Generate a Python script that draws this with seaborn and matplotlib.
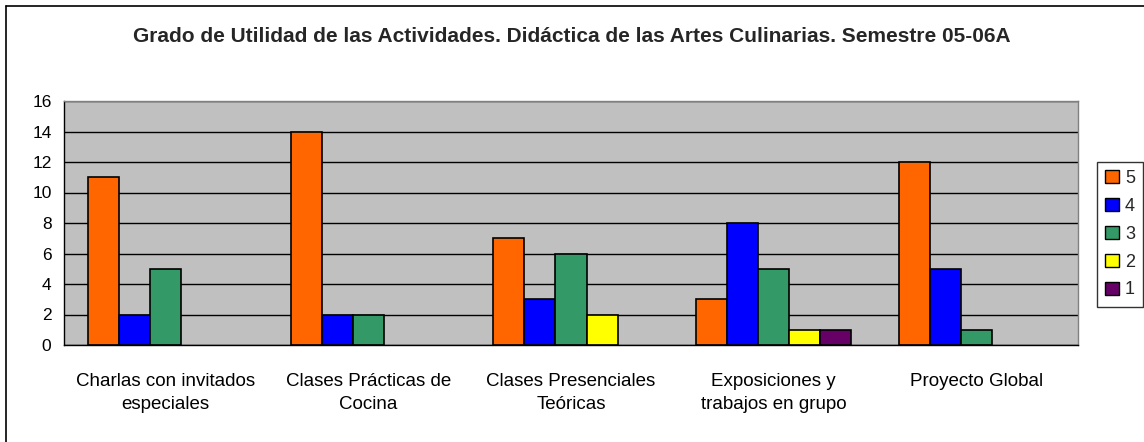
import matplotlib
matplotlib.use("Agg")
import matplotlib.pyplot as plt
import seaborn as sns
import pandas as pd
import numpy as np
from matplotlib.lines import Line2D
from matplotlib.patches import Patch

categories = ["Charlas con invitados\nespeciales", "Clases Prácticas de\nCocina",
              "Clases Presenciales\nTeóricas", "Exposiciones y\ntrabajos en grupo",
              "Proyecto Global"]
series = ["5", "4", "3", "2", "1"]
values_5 = [11, 14, 7, 3, 12]
values_4 = [2, 2, 3, 8, 5]
values_3 = [5, 2, 6, 5, 1]
values_2 = [np.nan, np.nan, 2, 1, np.nan]
values_1 = [np.nan, np.nan, np.nan, 1, np.nan]
colors = ["#FF6600", "#0000FF", "#339966", "#FFFF00", "#660066"]
title = "Grado de Utilidad de las Actividades. Didáctica de las Artes Culinarias. Semestre 05-06A"

rows = []
for s, vals in zip(series, [values_5, values_4, values_3, values_2, values_1]):
    for c, v in zip(categories, vals):
        rows.append({"cat": c, "serie": s, "val": v})
df = pd.DataFrame(rows)

sns.set_style("white")
plt.rcParams["font.family"] = ["Liberation Sans", "DejaVu Sans"]

W, H = 1144, 442
fig = plt.figure(figsize=(W / 100, H / 100), dpi=100)
ax = fig.add_axes([64 / W, 1 - 345 / H, (1078 - 64) / W, (345 - 101) / H])
ax.set_facecolor("#C0C0C0")

sns.barplot(data=df, x="cat", y="val", hue="serie", hue_order=series, order=categories,
            palette=colors, width=0.765, gap=0, edgecolor="black", linewidth=1.2,
            ax=ax, legend=False, saturation=1, errorbar=None)

ax.set_ylim(0, 16)
ax.set_xlim(-0.5, len(categories) - 0.5)
ax.set_yticks(range(0, 17, 2))
ax.yaxis.grid(True, color="black", linewidth=1)
ax.set_axisbelow(True)
ax.set_xlabel("")
ax.set_ylabel("")

# category labels centered, ticks at boundaries
ax.set_xticks(range(len(categories)))
ax.set_xticklabels(categories, fontsize=13.5, linespacing=1.5)
ax.tick_params(axis="x", length=0, pad=20)
ax.set_xticks(np.arange(-0.5, len(categories), 1), minor=True)
ax.tick_params(axis="x", which="minor", length=5, width=1, color="black", direction="out")
ax.tick_params(axis="y", length=5, width=1, color="black", direction="out", labelsize=12.5, pad=4)
ax.tick_params(axis="both", colors="black")

for side in ["top", "right"]:
    ax.spines[side].set_color("#808080")
    ax.spines[side].set_linewidth(1)
for side in ["left", "bottom"]:
    ax.spines[side].set_color("black")
    ax.spines[side].set_linewidth(1)

handles = [Patch(facecolor=c, edgecolor="black", linewidth=1, label=s) for c, s in zip(colors, series)]
leg = fig.legend(handles=handles, loc="upper left",
                 bbox_to_anchor=(1097 / W, 1 - 162 / H), fontsize=13,
                 frameon=True, fancybox=False, edgecolor="black", handlelength=0.75,
                 handleheight=0.75, handletextpad=0.35, labelspacing=0.6,
                 borderpad=0.45, borderaxespad=0)
leg.get_frame().set_linewidth(1)

fig.text(0.5, 1 - 36 / H, title, ha="center", va="center", fontsize=15, fontweight="bold")

# chart frame (top and left borders)
fig.add_artist(Line2D([6 / W, 1], [1 - 6 / H, 1 - 6 / H], color="black", linewidth=1.2))
fig.add_artist(Line2D([6 / W, 6 / W], [0, 1 - 6 / H], color="black", linewidth=1.2))

fig.savefig("out.png", dpi=100)
